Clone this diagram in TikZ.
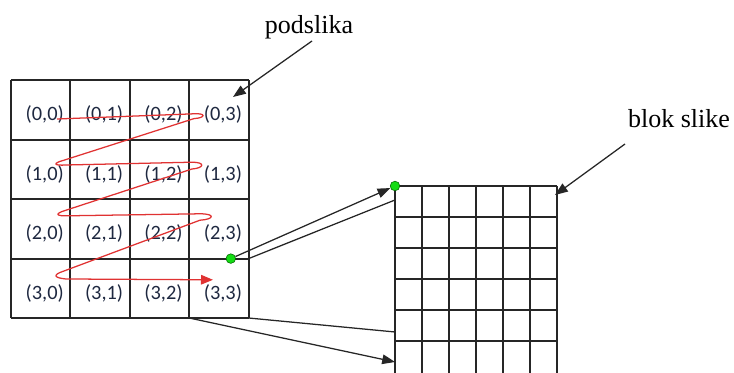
\documentclass[tikz,border=0pt]{standalone}
\usepackage{fontspec}
\newfontfamily\captionfont{LiberationSerif-Regular.ttf}
\newfontfamily\cellfont{Carlito}
\usepackage{tikz}
\usetikzlibrary{arrows.meta, positioning}
\usepackage{xcolor}
\definecolor{celltext}{RGB}{30,40,64}
\definecolor{spiralred}{RGB}{224,50,50}
\definecolor{dotgreen}{RGB}{20,220,20}

\begin{document}
\begin{tikzpicture}[
    gridline/.style={line width=1.3pt, black!85},
    pointer/.style={line width=0.9pt, black!85, -{Triangle[length=0.32cm, width=0.24cm]}},
    plainline/.style={line width=0.9pt, black!85},
    cell/.style={font=\cellfont\fontsize{14.5}{16}\selectfont, text=celltext},
    caption/.style={font=\captionfont\fontsize{18.5}{22}\selectfont},
    dot/.style={circle, fill=dotgreen, draw=green!40!black, line width=0.4pt, inner sep=0pt, minimum size=0.24cm},
    spiral/.style={line width=0.9pt, spiralred, -{Triangle[length=0.3cm, width=0.24cm]}}
  ]
    \useasboundingbox (0,0) rectangle (18.35,9.325);

    % Sub-image: 4x4 blocks
    \foreach \i in {0,...,4} {
      \draw[gridline] ({0.275+1.485*\i},1.375) -- ({0.275+1.485*\i},7.315);
      \draw[gridline] (0.275,{1.375+1.485*\i}) -- (6.215,{1.375+1.485*\i});
    }
    \foreach \r in {0,...,3}
      \foreach \c in {0,...,3}
        \node[cell] (b\r\c) at ({0.275+(\c+0.5)*1.485+0.1}, {7.315-(\r+0.5)*1.485-0.12}) {(\r,\c)};

    % Zig-zag scan order
    \draw[spiral] (1.425,6.35) -- (4.85,6.48)
      .. controls (5.15,6.5) and (5.15,6.38) .. (4.85,6.36)
      -- (1.6,5.32) .. controls (1.3,5.24) and (1.35,5.18) .. (1.65,5.2)
      -- (4.8,5.27) .. controls (5.15,5.27) and (5.1,5.12) .. (4.8,5.1)
      -- (1.65,4.07) .. controls (1.35,3.98) and (1.4,3.92) .. (1.7,3.93)
      -- (5.0,3.98) .. controls (5.4,3.98) and (5.35,3.84) .. (5.0,3.82)
      -- (1.6,2.55) .. controls (1.3,2.45) and (1.35,2.38) .. (1.65,2.35)
      -- (5.325,2.33);

    % Image block: 6x6 pixels (cut at the bottom)
    \foreach \i in {0,...,6}
      \draw[gridline] ({9.875+0.675*\i},4.675) -- ({9.875+0.675*\i},0);
    \foreach \j in {0,...,5}
      \draw[gridline] (9.875,{4.675-0.775*\j}) -- (13.925,{4.675-0.775*\j});

    % Corners of one block and its image
    \node[dot] (dotL) at (5.77,2.86) {};
    \node[dot] (dotR) at (9.875,4.675) {};
    \coordinate (blockR) at (6.215,2.86);
    \coordinate (topR) at (9.875,4.325);
    \coordinate (blockBL) at (4.73,1.375);
    \coordinate (blockBR) at (6.215,1.375);
    \coordinate (botR) at (9.875,0.275);
    \coordinate (midR) at (9.875,1.025);

    \draw[pointer] (dotL) -- (dotR);
    \draw[plainline] (blockR) -- (topR);
    \draw[pointer] (blockBL) -- (botR);
    \draw[plainline] (blockBR) -- (midR);

    % Labels
    \node[caption] (podslika) at (7.725,8.65) {podslika};
    \coordinate (podslikaStart) at (7.8,8.3);
    \coordinate (podslikaTip) at (5.825,6.9);
    \draw[pointer] (podslikaStart) -- (podslikaTip);

    \node[caption] (blok) at (16.975,6.35) {blok slike};
    \coordinate (blokStart) at (15.625,5.725);
    \coordinate (blokTip) at (13.875,4.45);
    \draw[pointer] (blokStart) -- (blokTip);
  \end{tikzpicture}
\end{document}
